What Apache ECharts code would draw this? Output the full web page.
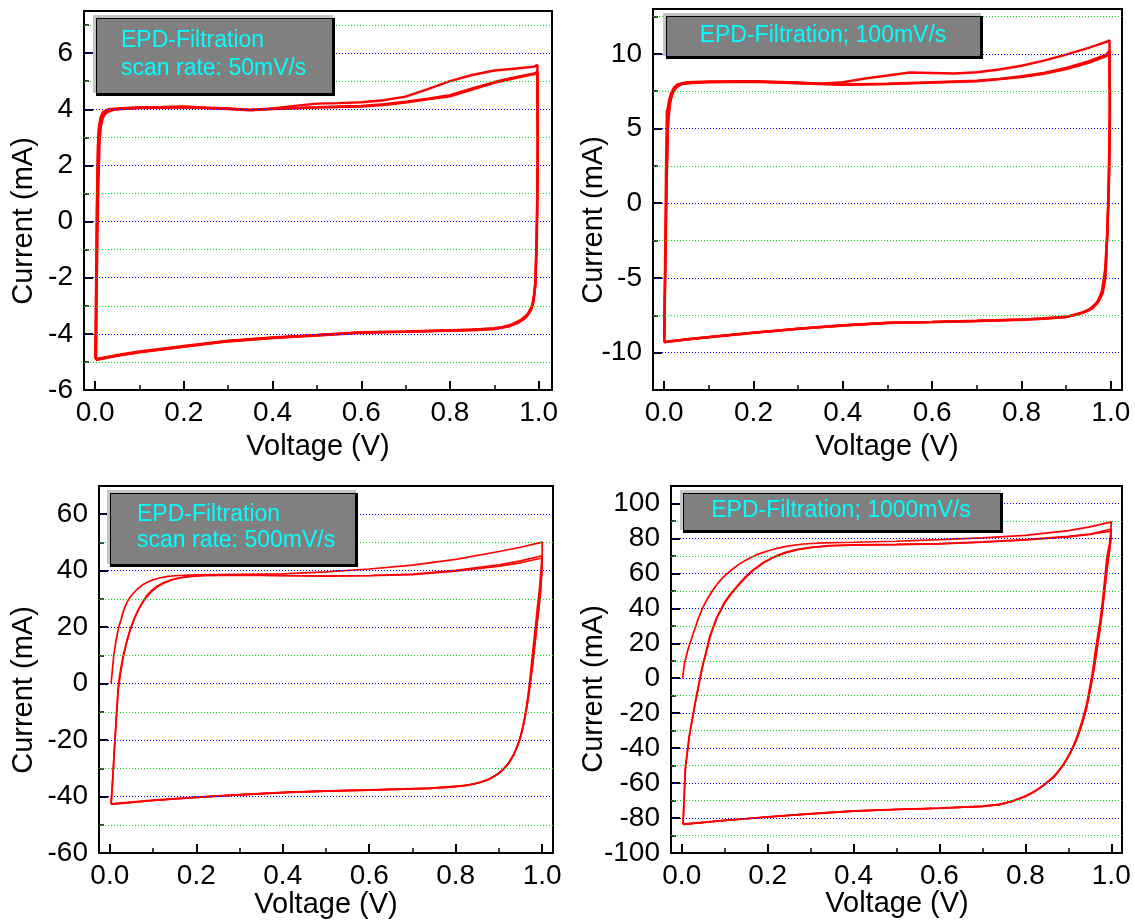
<!DOCTYPE html>
<html><head><meta charset="utf-8">
<script src="https://cdn.jsdelivr.net/npm/echarts@6/dist/echarts.min.js"></script>
<style>html,body{margin:0;padding:0;background:#fff}#c{width:1135px;height:920px}</style>
</head><body><div id="c"></div>
<script>
// ---------- DATA ----------
const xMajor = [0, 0.2, 0.4, 0.6, 0.8, 1.0];
const xMinor = [0.1, 0.3, 0.5, 0.7, 0.9];

const p1YMajor = [-6, -4, -2, 0, 2, 4, 6];
const p1YMinor = [-5, -3, -1, 1, 3, 5, 7];
const p2YMajor = [-10, -5, 0, 5, 10];
const p2YMinor = [-7.5, -2.5, 2.5, 7.5, 12.5];
const p3YMajor = [-60, -40, -20, 0, 20, 40, 60];
const p3YMinor = [-50, -30, -10, 10, 30, 50];
const p4YMajor = [-100, -80, -60, -40, -20, 0, 20, 40, 60, 80, 100];
const p4YMinor = [-90, -70, -50, -30, -10, 10, 30, 50, 70, 90];

const p1Label = ['EPD-Filtration', 'scan rate: 50mV/s'];
const p2Label = ['EPD-Filtration; 100mV/s'];
const p3Label = ['EPD-Filtration', 'scan rate: 500mV/s'];
const p4Label = ['EPD-Filtration; 1000mV/s'];

// Panel 1: 50 mV/s  [V, mA]
const p1Cycle1 = [[0.000,-4.88],[0.002,-2.5],[0.004,0.5],[0.006,2.6],[0.008,3.3],[0.012,3.7],[0.018,3.9],[0.03,4.0],[0.05,4.03],[0.1,4.07],[0.15,4.08],[0.2,4.1],[0.25,4.06],[0.3,4.03],[0.35,3.98],[0.4,4.03],[0.45,4.12],[0.5,4.2],[0.55,4.22],[0.6,4.25],[0.65,4.32],[0.7,4.45],[0.75,4.72],[0.8,5.0],[0.85,5.22],[0.9,5.38],[0.95,5.45],[0.99,5.52],[0.997,5.58],[0.998,3.0],[0.996,0.0],[0.993,-2.0],[0.99,-2.6],[0.985,-3.0],[0.975,-3.3],[0.96,-3.5],[0.94,-3.66],[0.92,-3.75],[0.9,-3.8],[0.85,-3.85],[0.8,-3.87],[0.7,-3.91],[0.6,-3.94],[0.5,-4.04],[0.4,-4.13],[0.3,-4.24],[0.2,-4.43],[0.1,-4.63],[0.05,-4.75],[0.002,-4.9]];
const p1Cycle2 = [[0.002,-4.9],[0.004,-2.0],[0.007,1.0],[0.01,2.8],[0.013,3.4],[0.018,3.72],[0.025,3.88],[0.04,3.98],[0.06,4.02],[0.1,4.05],[0.2,4.08],[0.3,4.02],[0.35,3.97],[0.4,4.02],[0.5,4.07],[0.55,4.1],[0.6,4.12],[0.65,4.18],[0.7,4.27],[0.75,4.38],[0.8,4.5],[0.85,4.74],[0.9,4.97],[0.95,5.15],[0.99,5.28],[0.997,5.33],[0.998,2.5],[0.996,-0.5],[0.993,-2.2],[0.989,-2.8],[0.983,-3.15],[0.972,-3.4],[0.955,-3.6],[0.935,-3.72],[0.9,-3.83],[0.85,-3.87],[0.8,-3.89],[0.7,-3.93],[0.6,-3.96],[0.5,-4.06],[0.4,-4.15],[0.3,-4.27],[0.2,-4.46],[0.1,-4.66],[0.05,-4.78],[0.002,-4.93]];
const p1Cycle3 = [[0.002,-4.93],[0.003,-1.5],[0.005,1.5],[0.008,3.0],[0.012,3.55],[0.02,3.82],[0.03,3.94],[0.05,4.0],[0.1,4.04],[0.2,4.07],[0.3,4.01],[0.35,3.96],[0.4,4.01],[0.5,4.06],[0.6,4.1],[0.65,4.15],[0.7,4.24],[0.75,4.35],[0.8,4.46],[0.85,4.7],[0.9,4.94],[0.95,5.12],[0.99,5.25],[0.997,5.3],[0.998,2.0],[0.995,-1.0],[0.992,-2.3],[0.987,-2.9],[0.98,-3.2],[0.968,-3.45],[0.95,-3.62],[0.93,-3.74],[0.9,-3.82],[0.8,-3.88],[0.7,-3.92],[0.6,-3.95],[0.5,-4.05],[0.4,-4.14],[0.3,-4.26],[0.2,-4.45],[0.1,-4.65],[0.002,-4.9]];

// Panel 2: 100 mV/s
const p2Cycle1 = [[0.0,-9.28],[0.002,-4.0],[0.004,2.0],[0.006,6.2],[0.008,6.35],[0.011,6.9],[0.016,7.4],[0.022,7.75],[0.03,7.95],[0.05,8.1],[0.1,8.15],[0.2,8.17],[0.3,8.08],[0.35,8.0],[0.4,8.1],[0.45,8.35],[0.5,8.55],[0.55,8.75],[0.6,8.72],[0.65,8.68],[0.7,8.77],[0.75,8.95],[0.8,9.2],[0.85,9.55],[0.9,9.95],[0.95,10.4],[0.99,10.8],[0.997,10.9],[0.998,7.0],[0.996,3.0],[0.994,0.0],[0.991,-3.0],[0.988,-5.0],[0.982,-6.0],[0.972,-6.6],[0.958,-7.05],[0.94,-7.3],[0.92,-7.48],[0.9,-7.6],[0.85,-7.72],[0.8,-7.78],[0.7,-7.87],[0.6,-7.94],[0.5,-8.0],[0.4,-8.17],[0.3,-8.39],[0.2,-8.66],[0.1,-8.95],[0.05,-9.1],[0.0,-9.28]];
const p2Cycle2 = [[0.0,-9.3],[0.002,-5.0],[0.005,1.0],[0.008,5.0],[0.012,6.6],[0.018,7.3],[0.025,7.7],[0.035,7.95],[0.05,8.05],[0.1,8.12],[0.2,8.15],[0.3,8.05],[0.4,7.95],[0.5,8.0],[0.6,8.1],[0.7,8.2],[0.75,8.32],[0.8,8.5],[0.85,8.72],[0.9,9.06],[0.95,9.5],[0.99,9.95],[0.997,10.2],[0.998,6.0],[0.996,2.0],[0.993,-1.5],[0.989,-4.0],[0.984,-5.5],[0.976,-6.3],[0.965,-6.8],[0.95,-7.15],[0.93,-7.38],[0.9,-7.62],[0.85,-7.74],[0.8,-7.8],[0.7,-7.89],[0.6,-7.96],[0.5,-8.02],[0.4,-8.19],[0.3,-8.41],[0.2,-8.68],[0.1,-8.97],[0.05,-9.12],[0.0,-9.3]];
const p2Cycle3 = [[0.0,-9.3],[0.003,-4.0],[0.006,2.0],[0.009,5.5],[0.014,6.9],[0.02,7.45],[0.028,7.78],[0.04,7.98],[0.06,8.05],[0.1,8.1],[0.2,8.13],[0.3,8.03],[0.4,7.93],[0.5,7.98],[0.6,8.07],[0.7,8.16],[0.8,8.44],[0.85,8.66],[0.9,8.98],[0.95,9.4],[0.99,9.85],[0.997,10.05],[0.998,5.5],[0.996,1.5],[0.992,-2.0],[0.987,-4.5],[0.98,-5.9],[0.97,-6.6],[0.955,-7.05],[0.935,-7.33],[0.9,-7.6],[0.8,-7.79],[0.7,-7.88],[0.6,-7.95],[0.5,-8.01],[0.4,-8.18],[0.3,-8.4],[0.2,-8.67],[0.1,-8.96],[0.0,-9.29]];

// Panel 3: 500 mV/s
const p3Cycle1 = [[0.003,0],[0.006,5],[0.009,9.8],[0.014,15],[0.02,19.5],[0.026,22.7],[0.032,26],[0.039,28.6],[0.047,30.6],[0.055,32.1],[0.065,33.7],[0.076,35],[0.088,36],[0.1,36.8],[0.117,37.5],[0.134,38.0],[0.16,38.3],[0.2,38.5],[0.3,38.7],[0.4,38.9],[0.5,39.6],[0.6,40.6],[0.7,42.0],[0.8,44.0],[0.9,46.8],[0.95,48.3],[1.0,50.1],[1.0,46],[0.997,40],[0.994,34],[0.99,28.6],[0.986,22.5],[0.982,16.8],[0.978,11],[0.974,5],[0.97,-0.8],[0.965,-6.7],[0.96,-11.5],[0.955,-16],[0.948,-20],[0.94,-23],[0.932,-25.7],[0.924,-27.9],[0.914,-29.8],[0.903,-31.4],[0.887,-33],[0.87,-34.4],[0.845,-35.4],[0.82,-36.1],[0.78,-36.6],[0.74,-37],[0.6,-37.6],[0.5,-38],[0.4,-38.5],[0.3,-39.3],[0.2,-40.2],[0.1,-41.3],[0.003,-42.6]];
const p3Cycle2 = [[0.003,-42.6],[0.006,-36],[0.009,-28],[0.012,-20],[0.016,-10],[0.02,0],[0.025,5],[0.031,9.8],[0.04,15.5],[0.05,20.4],[0.058,23.5],[0.066,26.2],[0.075,28.7],[0.084,30.9],[0.096,32.9],[0.109,34.5],[0.125,35.8],[0.142,36.8],[0.162,37.5],[0.184,38.0],[0.22,38.3],[0.3,38.5],[0.4,38.3],[0.5,38.2],[0.6,38.3],[0.7,38.8],[0.8,40.1],[0.9,42.1],[0.95,43.5],[1.0,45.3],[0.999,40],[0.996,33],[0.992,27],[0.988,21],[0.984,15],[0.98,9],[0.975,3],[0.97,-3],[0.964,-9],[0.957,-14.5],[0.95,-18.8],[0.942,-22.5],[0.933,-25.5],[0.922,-28.2],[0.91,-30.4],[0.895,-32.3],[0.877,-33.9],[0.855,-35.1],[0.83,-36],[0.79,-36.7],[0.74,-37.1],[0.6,-37.7],[0.5,-38.1],[0.4,-38.6],[0.3,-39.4],[0.2,-40.3],[0.1,-41.4],[0.003,-42.7]];
const p3Cycle3 = [[0.003,-42.7],[0.007,-33],[0.011,-22],[0.015,-12],[0.019,-3],[0.024,3],[0.03,8.5],[0.038,14],[0.048,19.5],[0.057,23],[0.065,25.8],[0.075,28.5],[0.085,30.7],[0.097,32.7],[0.11,34.3],[0.126,35.7],[0.143,36.7],[0.165,37.5],[0.19,38.0],[0.22,38.3],[0.3,38.4],[0.4,38.2],[0.5,38.1],[0.6,38.2],[0.7,38.6],[0.8,39.8],[0.9,41.6],[0.95,42.8],[1.0,44.5],[0.999,39],[0.996,32],[0.992,26],[0.987,20],[0.982,13],[0.977,6],[0.971,-1],[0.965,-7.5],[0.958,-13.5],[0.951,-18],[0.943,-22],[0.934,-25.2],[0.923,-28],[0.911,-30.2],[0.896,-32.2],[0.878,-33.8],[0.856,-35],[0.83,-35.9],[0.79,-36.6],[0.74,-37.1],[0.6,-37.7],[0.5,-38.1],[0.4,-38.6],[0.3,-39.4],[0.2,-40.3],[0.1,-41.4],[0.003,-42.8]];

// Panel 4: 1000 mV/s
const p4Cycle1 = [[0.002,0],[0.006,8],[0.014,16],[0.027,25.7],[0.037,33],[0.048,40],[0.06,45.5],[0.073,50.6],[0.085,54.6],[0.098,58.2],[0.115,61.8],[0.132,65],[0.152,68],[0.174,70.7],[0.2,72.8],[0.224,74.5],[0.25,75.7],[0.283,76.8],[0.33,77.4],[0.4,77.8],[0.5,78.4],[0.6,79.3],[0.7,80.3],[0.8,81.8],[0.9,84.5],[0.95,86.6],[1.0,89.5],[0.999,84],[0.996,77],[0.99,69.7],[0.985,57],[0.979,42.9],[0.974,33],[0.968,23.8],[0.962,14],[0.957,4.6],[0.95,-5],[0.943,-14.6],[0.932,-24.5],[0.92,-33.7],[0.906,-42],[0.89,-49],[0.87,-55.5],[0.846,-60.5],[0.825,-64.2],[0.804,-67.2],[0.775,-70],[0.745,-72],[0.7,-73.2],[0.6,-74.3],[0.5,-75],[0.4,-75.9],[0.3,-77.5],[0.2,-79.3],[0.1,-81.3],[0.003,-83.5]];
const p4Cycle2 = [[0.003,-83.5],[0.008,-52.9],[0.017,-33.7],[0.031,-14.6],[0.046,4.6],[0.065,23.8],[0.08,34],[0.098,42.9],[0.112,47.8],[0.128,52.5],[0.146,57.5],[0.166,62],[0.19,66.2],[0.216,69.7],[0.24,71.9],[0.266,73.6],[0.3,74.9],[0.342,75.9],[0.4,76.3],[0.5,76.6],[0.6,77],[0.7,78],[0.8,79.3],[0.9,81.2],[0.95,82.5],[1.0,84.1],[0.999,79],[0.996,73],[0.991,64],[0.986,53],[0.98,40],[0.975,30],[0.969,20],[0.963,10],[0.957,1],[0.95,-8],[0.942,-17.5],[0.931,-27],[0.918,-36],[0.903,-43.5],[0.886,-50.5],[0.866,-56.5],[0.843,-61.3],[0.82,-65],[0.798,-67.8],[0.77,-70.3],[0.74,-72.2],[0.7,-73.3],[0.6,-74.4],[0.5,-75.1],[0.4,-76],[0.3,-77.6],[0.2,-79.4],[0.1,-81.4],[0.003,-83.6]];
const p4Cycle3 = [[0.003,-83.6],[0.009,-50],[0.019,-31],[0.033,-12],[0.048,6],[0.067,24.5],[0.082,34.5],[0.1,43],[0.114,47.9],[0.13,52.6],[0.148,57.5],[0.168,62],[0.192,66.2],[0.218,69.6],[0.243,71.9],[0.27,73.6],[0.305,74.9],[0.35,75.8],[0.4,76.2],[0.5,76.5],[0.6,76.9],[0.7,77.8],[0.8,79.1],[0.9,80.9],[0.95,82.3],[1.0,85.4],[0.999,80],[0.996,74],[0.991,65],[0.985,52],[0.979,39],[0.973,28],[0.967,18],[0.961,8],[0.955,-1],[0.948,-10],[0.94,-19.5],[0.929,-28.5],[0.916,-37],[0.901,-44.5],[0.884,-51],[0.864,-57],[0.841,-61.6],[0.818,-65.2],[0.795,-68],[0.768,-70.4],[0.74,-72.3],[0.7,-73.4],[0.6,-74.4],[0.5,-75.1],[0.4,-76],[0.3,-77.6],[0.2,-79.4],[0.1,-81.4],[0.003,-83.6]];

// ---------- LAYOUT / STYLE ----------
const FONT = 'Liberation Sans, Arial, Helvetica, sans-serif';
const panels = [
  { grid:{left:84, top:11, width:468, height:379}, xr:[-0.025,1.03], yr:[-6,7.5],
    yMajor:p1YMajor, yMinor:p1YMinor, cycles:[p1Cycle1,p1Cycle2,p1Cycle3], lw:2.4,
    yTitle:[24,221], xTitle:[318,447],
    box:[93,15,335,96], label:p1Label, labelPos:{align:'left', x:121, ys:[41,69]} },
  { grid:{left:653, top:9, width:469, height:381}, xr:[-0.025,1.025], yr:[-12.5,13],
    yMajor:p2YMajor, yMinor:p2YMinor, cycles:[p2Cycle1,p2Cycle2,p2Cycle3], lw:2.4,
    yTitle:[594,220], xTitle:[887,447],
    box:[663,13,983,59], label:p2Label, labelPos:{align:'center', x:823, ys:[36]} },
  { grid:{left:99, top:486, width:454, height:367}, xr:[-0.025,1.025], yr:[-60,70],
    yMajor:p3YMajor, yMinor:p3YMinor, cycles:[p3Cycle1,p3Cycle2,p3Cycle3], lw:1.7,
    yTitle:[24,690], xTitle:[326,905],
    box:[107,490,358,567], label:p3Label, labelPos:{align:'left', x:137, ys:[515,541]} },
  { grid:{left:671, top:486, width:451, height:367}, xr:[-0.025,1.025], yr:[-100,110],
    yMajor:p4YMajor, yMinor:p4YMinor, cycles:[p4Cycle1,p4Cycle2,p4Cycle3], lw:1.7,
    yTitle:[594,689], xTitle:[897,904],
    box:[680,490,1003,533], label:p4Label, labelPos:{align:'center', x:841, ys:[511]} }
];

const grids = [], xAxes = [], yAxes = [], series = [], graphics = [];
panels.forEach((p, i) => {
  grids.push(Object.assign({show:true, borderColor:'#000', borderWidth:2, backgroundColor:'#fff'}, p.grid));
  const xi = xAxes.length, yi = yAxes.length;
  // major x
  xAxes.push({gridIndex:i, type:'value', min:p.xr[0], max:p.xr[1], position:'bottom',
    axisLine:{show:false, onZero:false}, splitLine:{show:false},
    axisTick:{show:true, inside:true, length:9, lineStyle:{color:'#000', width:2}, customValues:xMajor},
    axisLabel:{show:true, customValues:xMajor, formatter:v => Number(v).toFixed(1),
      fontSize:28, color:'#000', fontFamily:FONT, margin:9}});
  // minor x
  xAxes.push({gridIndex:i, type:'value', min:p.xr[0], max:p.xr[1], position:'bottom',
    axisLine:{show:false, onZero:false}, splitLine:{show:false}, axisLabel:{show:false},
    axisTick:{show:true, inside:true, length:5, lineStyle:{color:'#000', width:1.5}, customValues:xMinor}});
  // major y
  yAxes.push({gridIndex:i, type:'value', min:p.yr[0], max:p.yr[1], position:'left',
    axisLine:{show:false, onZero:false}, splitLine:{show:false},
    axisTick:{show:true, inside:true, length:9, lineStyle:{color:'#000', width:2}, customValues:p.yMajor},
    axisLabel:{show:true, customValues:p.yMajor, formatter:v => String(v),
      fontSize:28, color:'#000', fontFamily:FONT, margin:11}});
  // minor y
  yAxes.push({gridIndex:i, type:'value', min:p.yr[0], max:p.yr[1], position:'left',
    axisLine:{show:false, onZero:false}, splitLine:{show:false}, axisLabel:{show:false},
    axisTick:{show:true, inside:true, length:5, lineStyle:{color:'#000', width:1.5}, customValues:p.yMinor}});

  // grid lines via markLine
  const ml = [];
  p.yMajor.filter(v => v > p.yr[0] && v < p.yr[1]).forEach(v =>
    ml.push({yAxis:v, lineStyle:{color:'#0000ff', width:1, type:[1,2]}}));
  p.yMinor.filter(v => v > p.yr[0] && v < p.yr[1]).forEach(v =>
    ml.push({yAxis:v, lineStyle:{color:'#00dd00', width:1, type:[1,2]}}));
  series.push({type:'line', xAxisIndex:xi, yAxisIndex:yi, data:[[0.5, p.yr[0]-1000]],
    showSymbol:false, symbol:'none', lineStyle:{opacity:0}, silent:true, z:1,
    markLine:{silent:true, symbol:['none','none'], label:{show:false}, animation:false, data:ml}});

  p.cycles.forEach(c => {
    series.push({type:'line', xAxisIndex:xi, yAxisIndex:yi, data:c, showSymbol:false, symbol:'none',
      smooth:false, lineStyle:{color:'#ff0000', width:p.lw}, z:3, silent:true});
  });

  // axis titles
  graphics.push({type:'text', x:p.yTitle[0], y:p.yTitle[1], rotation:Math.PI/2, z:50,
    style:{text:'Current (mA)', font:'29px ' + FONT, fill:'#000', align:'center', verticalAlign:'middle'}});
  graphics.push({type:'text', x:p.xTitle[0], y:p.xTitle[1], z:50,
    style:{text:'Voltage (V)', font:'29px ' + FONT, fill:'#000', align:'center', verticalAlign:'middle'}});

  // label box
  const [L, T, R, B] = p.box;
  graphics.push({type:'rect', z:60, shape:{x:L, y:T, width:R-2-L, height:B-3-T}, style:{fill:'#c4c4c4'}});
  graphics.push({type:'rect', z:61, shape:{x:L+3, y:T+3, width:R-L-3, height:B-T-3}, style:{fill:'#000'}});
  graphics.push({type:'rect', z:62, shape:{x:L+4, y:T+4, width:R-3-L-4, height:B-3-T-4}, style:{fill:'#808080'}});
  p.label.forEach((t, k) => {
    graphics.push({type:'text', z:63, x:p.labelPos.x, y:p.labelPos.ys[k],
      style:{text:t, font:'23px ' + FONT, fill:'#00ffff', align:p.labelPos.align, verticalAlign:'middle'}});
  });
});

const chart = echarts.init(document.getElementById('c'), null, {renderer:'canvas'});
chart.setOption({
  animation:false,
  backgroundColor:'#fff',
  grid:grids, xAxis:xAxes, yAxis:yAxes, series:series,
  graphic:{elements:graphics}
});
</script>
</body></html>
